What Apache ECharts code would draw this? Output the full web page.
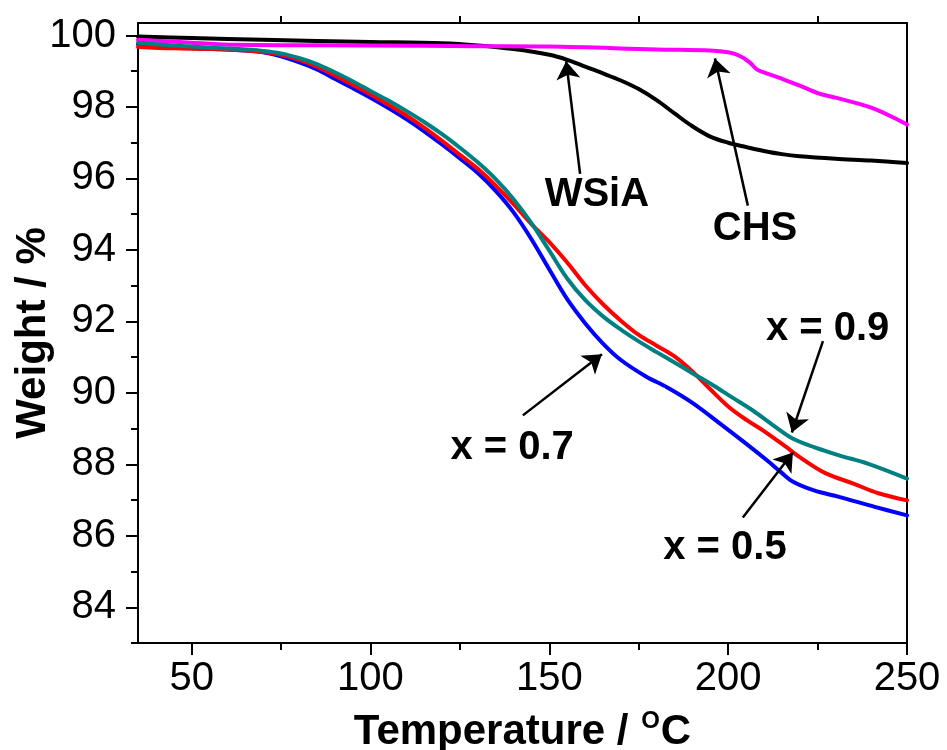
<!DOCTYPE html>
<html><head><meta charset="utf-8">
<script src="https://cdn.jsdelivr.net/npm/echarts@6/dist/echarts.min.js"></script>
<style>html,body{margin:0;padding:0;background:#fff}#c{width:947px;height:750px}</style>
</head><body><div id="c"></div>
<script>
// ---- axis ticks ----
const xTicks = [50, 100, 150, 200, 250];
const xMinor = [75, 125, 175, 225];
const yTicks = [84, 86, 88, 90, 92, 94, 96, 98, 100];
const yMinor = [83, 85, 87, 89, 91, 93, 95, 97, 99];

// ---- series: WSiA (black) ----
const wsiaT = [35, 50, 70, 100, 120, 130, 140, 150, 155, 160, 165, 170, 175, 180, 185, 190, 195, 200, 205, 210, 215, 220, 230, 240, 250];
const wsiaW = [99.97, 99.93, 99.88, 99.82, 99.78, 99.72, 99.62, 99.46, 99.32, 99.13, 98.94, 98.74, 98.50, 98.19, 97.82, 97.46, 97.17, 97.00, 96.88, 96.77, 96.68, 96.62, 96.55, 96.50, 96.43];

// ---- series: CHS (magenta) ----
const chsT = [35, 50, 62, 100, 130, 150, 180, 195, 200, 203, 206, 208, 210, 215, 220, 225, 230, 240, 250];
const chsW = [99.88, 99.80, 99.74, 99.72, 99.70, 99.69, 99.61, 99.58, 99.53, 99.44, 99.25, 99.05, 98.97, 98.79, 98.60, 98.39, 98.26, 97.98, 97.51];

// ---- series: x = 0.7 (blue) ----
const x07T = [35, 45, 55, 65, 70, 75, 80, 85, 90, 95, 100, 105, 110, 115, 120, 125, 130, 135, 140, 145, 150, 155, 160, 165, 170, 177, 183, 190, 198, 205, 211, 215, 218, 224, 231, 241, 250];
const x07W = [99.76, 99.68, 99.63, 99.58, 99.53, 99.42, 99.25, 99.05, 98.79, 98.53, 98.26, 97.97, 97.66, 97.32, 96.95, 96.56, 96.15, 95.65, 95.05, 94.30, 93.45, 92.62, 91.95, 91.38, 90.92, 90.46, 90.15, 89.72, 89.12, 88.58, 88.10, 87.76, 87.52, 87.27, 87.09, 86.81, 86.57];

// ---- series: x = 0.5 (red) ----
const x05T = [35, 45, 55, 65, 70, 75, 80, 85, 90, 95, 100, 105, 110, 115, 120, 125, 130, 135, 140, 145, 150, 155, 160, 165, 170, 175, 180, 185, 190, 195, 200, 205, 210, 216, 220, 227, 235, 242, 250];
const x05W = [99.68, 99.64, 99.62, 99.58, 99.54, 99.46, 99.32, 99.13, 98.88, 98.62, 98.35, 98.06, 97.76, 97.42, 97.05, 96.66, 96.27, 95.80, 95.28, 94.72, 94.22, 93.65, 93.02, 92.48, 92.02, 91.62, 91.32, 91.02, 90.60, 90.10, 89.62, 89.25, 88.93, 88.50, 88.20, 87.76, 87.46, 87.19, 86.99];

// ---- series: x = 0.9 (teal) ----
const x09T = [35, 45, 55, 62, 70, 75, 80, 85, 90, 95, 100, 105, 110, 115, 120, 125, 130, 135, 140, 145, 150, 155, 160, 165, 170, 175, 180, 185, 190, 196, 201, 207, 213, 218, 224, 231, 239, 250];
const x09W = [99.80, 99.72, 99.66, 99.63, 99.57, 99.50, 99.37, 99.20, 98.97, 98.72, 98.45, 98.18, 97.89, 97.58, 97.24, 96.86, 96.45, 95.98, 95.42, 94.75, 93.98, 93.20, 92.60, 92.14, 91.77, 91.44, 91.14, 90.85, 90.55, 90.20, 89.88, 89.50, 89.06, 88.72, 88.48, 88.25, 88.02, 87.60];

// ---- annotations (data coordinates) ----
const annTexts = ['WSiA', 'CHS', 'x = 0.7', 'x = 0.9', 'x = 0.5'];
const annLabelPos = [[163.3, 95.55], [207.5, 94.6], [139.6, 88.45], [227.8, 91.8], [199.1, 85.65]];
const annArrowFrom = [[158.6, 96.13], [205.5, 95.24], [142.6, 89.37], [226.5, 91.45], [204.1, 86.51]];
const annArrowTo = [[154.7, 99.28], [196.3, 99.36], [164.7, 91.08], [217.8, 88.89], [218.1, 88.33]];

const zip = (a, b) => a.map((v, i) => [v, b[i]]);
const FONT = "'Liberation Sans', Arial, sans-serif";

function lineSeries(name, T, W, color) {
  return {
    name, type: 'line', data: zip(T, W), showSymbol: false, smooth: 0.35,
    lineStyle: { color, width: 4, join: 'round', cap: 'round' }, itemStyle: { color }, silent: true, z: 3
  };
}

const chart = echarts.init(document.getElementById('c'), null, { renderer: 'canvas' });
const axisLineStyle = { color: '#000', width: 2 };
chart.setOption({
  animation: false,
  backgroundColor: '#fff',
  grid: { left: 138, right: 40, top: 23, bottom: 107, show: false, containLabel: false, outerBoundsMode: 'none' },
  xAxis: [
    {
      type: 'value', min: 35, max: 250, position: 'bottom',
      axisLine: { show: true, lineStyle: axisLineStyle },
      axisTick: { show: true, customValues: xTicks, length: 12, lineStyle: axisLineStyle },
      axisLabel: { customValues: xTicks, fontSize: 40, color: '#000', fontFamily: FONT, margin: 16 },
      splitLine: { show: false },
      name: '{a|Temperature / }{s|O}{a|C}', nameLocation: 'middle', nameGap: 66,
      nameTextStyle: {
        rich: {
          a: { fontSize: 42, fontWeight: 'bold', fontFamily: FONT, color: '#000', lineHeight: 46 },
          s: { fontSize: 24, fontWeight: 'bold', fontFamily: FONT, color: '#000', verticalAlign: 'top', lineHeight: 46, padding: [0, 1, 16, 1] }
        }
      }
    },
    {
      type: 'value', min: 35, max: 250, position: 'bottom', gridIndex: 0,
      axisLine: { show: false },
      axisTick: { show: true, customValues: xMinor, length: 7, lineStyle: axisLineStyle },
      axisLabel: { show: false }, splitLine: { show: false }
    },
    {
      type: 'value', min: 35, max: 250, position: 'top', gridIndex: 0,
      axisLine: { show: true, lineStyle: axisLineStyle },
      axisTick: { show: true, customValues: xMinor, length: 7, lineStyle: axisLineStyle },
      axisLabel: { show: false }, splitLine: { show: false }
    }
  ],
  yAxis: [
    {
      type: 'value', min: 83, max: 100.35, position: 'left',
      axisLine: { show: true, lineStyle: axisLineStyle },
      axisTick: { show: true, customValues: yTicks, length: 12, lineStyle: axisLineStyle },
      axisLabel: { customValues: yTicks, fontSize: 40, color: '#000', fontFamily: FONT, margin: 22 },
      splitLine: { show: false },
      name: 'Weight / %', nameLocation: 'middle', nameGap: 84, nameRotate: 90, nameMoveOverlap: false,
      nameTextStyle: { fontSize: 42, fontWeight: 'bold', fontFamily: FONT, color: '#000' }
    },
    {
      type: 'value', min: 83, max: 100.35, position: 'left',
      axisLine: { show: false },
      axisTick: { show: true, customValues: yMinor, length: 7, lineStyle: axisLineStyle },
      axisLabel: { show: false }, splitLine: { show: false }
    },
    {
      type: 'value', min: 83, max: 100.35, position: 'right',
      axisLine: { show: true, lineStyle: axisLineStyle },
      axisTick: { show: false }, axisLabel: { show: false }, splitLine: { show: false }
    }
  ],
  series: [
    lineSeries('WSiA', wsiaT, wsiaW, '#000000'),
    lineSeries('CHS', chsT, chsW, '#ff00ff'),
    lineSeries('x = 0.7', x07T, x07W, '#0000ff'),
    lineSeries('x = 0.5', x05T, x05W, '#ff0000'),
    lineSeries('x = 0.9', x09T, x09W, '#008080'),
    {
      type: 'lines', coordinateSystem: 'cartesian2d', silent: true, z: 5,
      data: annArrowFrom.map((f, i) => ({ coords: [f, annArrowTo[i]] })),
      lineStyle: { color: '#000', width: 2.5, opacity: 1 },
      symbol: ['none', 'arrow'], symbolSize: 18
    },
    {
      type: 'scatter', silent: true, z: 6, symbolSize: 0,
      data: annLabelPos.map((p, i) => ({ value: p, label: { formatter: annTexts[i] } })),
      itemStyle: { color: 'rgba(0,0,0,0)' },
      label: { show: true, position: 'inside', fontSize: 40, fontWeight: 'bold', fontFamily: FONT, color: '#000', textBorderWidth: 0, textBorderColor: 'transparent', opacity: 1 }
    }
  ]
});
</script>
</body></html>
